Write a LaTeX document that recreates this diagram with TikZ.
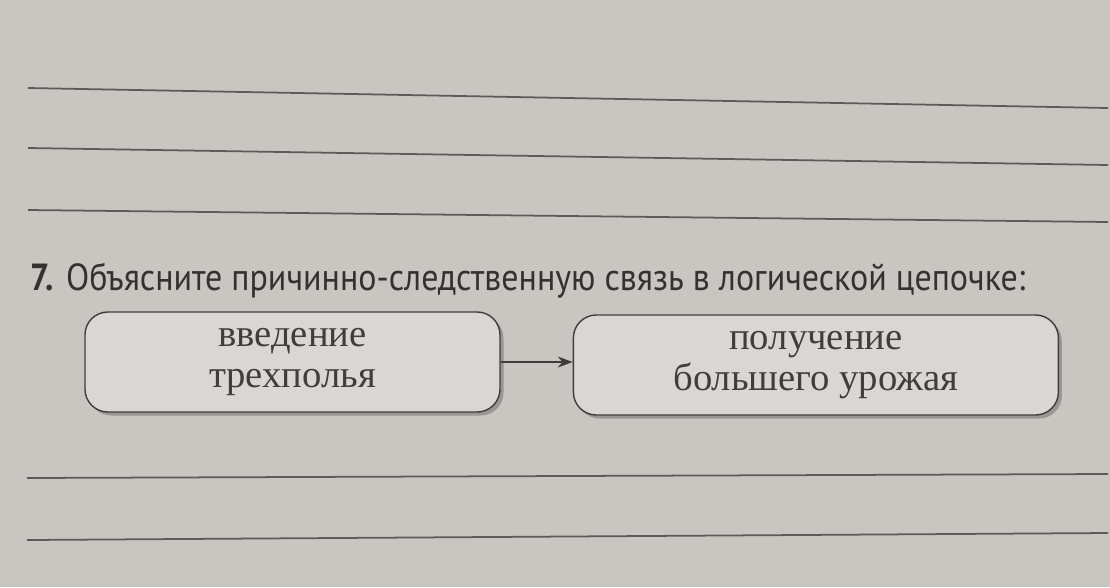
\documentclass[tikz,border=0pt]{standalone}
\usepackage{graphicx}
\usepackage{fontspec}
\setmainfont{Liberation Serif}
\newfontfamily\headfont{PT Sans}
\usepackage{tikz}
\usetikzlibrary{arrows.meta, positioning, shadows}
\definecolor{paper}{RGB}{200,198,192}
\definecolor{ink}{RGB}{62,62,62}
\tikzstyle{chainbox} = [
    rectangle, rounded corners=13pt, minimum height=2cm,
    align=center, draw=ink, line width=0.8pt, fill=paper!70!white,
    text=ink, font=\fontsize{22}{23}\selectfont,
    drop shadow={shadow xshift=0.7mm, shadow yshift=-0.7mm, fill=ink!70, opacity=0.6}
]
\tikzstyle{arrow} = [-{Stealth[length=3mm, width=2.2mm]}, line width=0.8pt, draw=ink]
\tikzstyle{rule} = [line width=1pt, draw=ink!85]

\begin{document}
\begin{tikzpicture}[node distance=1.44cm]
        \fill[paper] (0,0) rectangle (22.2,-11.74);
        \useasboundingbox (0,0) rectangle (22.2,-11.74);

        % answer lines
        \draw[rule] (0.56,-1.76) -- (22.16,-2.16);
        \draw[rule] (0.56,-2.96) -- (22.16,-3.30);
        \draw[rule] (0.56,-4.20) -- (22.16,-4.44);

        \node[anchor=base west, text=ink!80!black, inner sep=0pt,
              font=\headfont\fontsize{21.5}{26}\selectfont] (task) at (0.6,-5.8)
            {\resizebox{19.9cm}{\height}{\textbf{7.} Объясните причинно-следственную связь в логической цепочке:}};

        \node[chainbox, minimum width=8.3cm] (cause) at (5.85,-7.24)
            {введение\\трехполья};
        \node[chainbox, minimum width=9.7cm, right=of cause, yshift=-0.06cm] (effect)
            {получение\\большего урожая};

        \draw[arrow] (cause.east) -- (cause.east -| effect.west);

        \draw[rule] (0.54,-9.56) -- (22.16,-9.48);
        \draw[rule] (0.54,-10.80) -- (22.16,-10.66);
    \end{tikzpicture}
\end{document}
